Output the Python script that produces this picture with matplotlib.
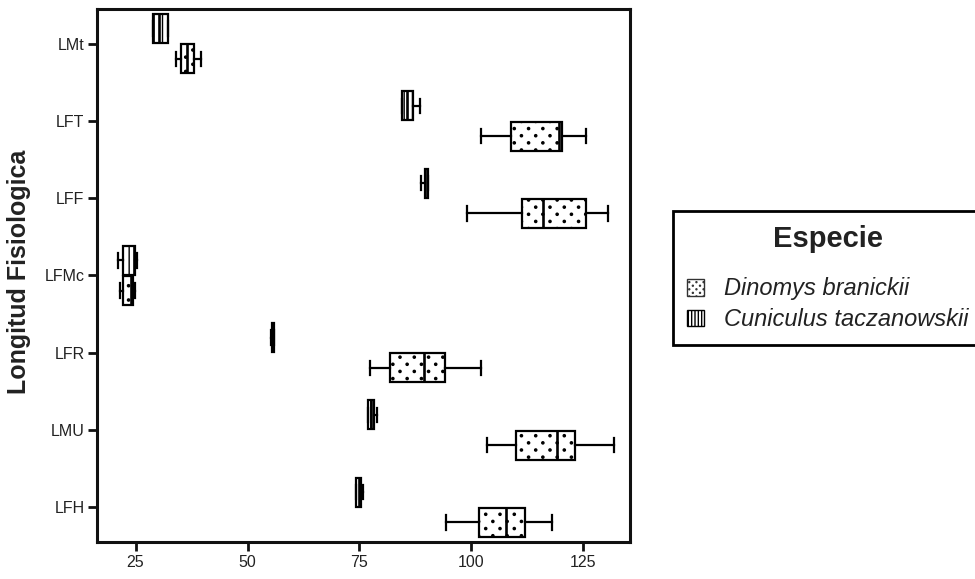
import numpy as np
import matplotlib
matplotlib.use('Agg')
import matplotlib.pyplot as plt
import matplotlib.hatch as mhatch
from matplotlib.path import Path
from matplotlib.patches import Patch

plt.rcParams['font.family'] = ['Liberation Sans', 'DejaVu Sans']
plt.rcParams['hatch.linewidth'] = 1.0

categorias = ['LMt', 'LFT', 'LFF', 'LFMc', 'LFR', 'LMU', 'LFH']

# (whislo, q1, med, q3, whishi) per category
cuniculus = [
    [28.9, 28.9, 30.3, 32.2, 32.2],
    [84.6, 84.6, 85.5, 87.0, 88.6],
    [88.8, 89.6, 90.0, 90.3, 90.3],
    [21.1, 22.2, 24.6, 24.9, 25.4],
    [55.3, 55.4, 55.6, 55.9, 56.0],
    [76.9, 77.0, 77.6, 78.3, 79.0],
    [74.2, 74.3, 75.0, 75.3, 75.7],
]
dinomys = [
    [34.0, 35.1, 36.4, 38.0, 39.6],
    [102.2, 108.8, 119.5, 120.2, 125.6],
    [98.9, 111.3, 116.0, 125.6, 130.5],
    [21.6, 22.3, 23.9, 24.4, 24.9],
    [77.3, 81.8, 89.3, 94.0, 102.2],
    [103.5, 110.0, 119.0, 123.2, 131.8],
    [94.4, 101.7, 107.6, 111.9, 118.0],
]
especies = ['Dinomys branickii', 'Cuniculus taczanowskii']
xticks = [25, 50, 75, 100, 125]


# sparse staggered dot texture like the original (rows twice as close as columns)
class SparseDots(mhatch.HatchPatternBase):

    def __init__(self, hatch, density):
        k = hatch.count('.')
        self.n = k * 7
        self.size = 0.011 if k <= 1 else 0.005
        circ = Path.unit_circle()
        self.shape = circ.vertices
        self.shape_codes = circ.codes
        self.pts = self._points()
        self.num_vertices = len(self.pts) * len(self.shape)

    def _points(self):
        pts = []
        if self.n == 0:
            return pts
        for r in range(2 * self.n + 1):
            y = r / (2 * self.n)
            if r % 2 == 0:
                xs = np.arange(self.n + 1) / self.n
            else:
                xs = (np.arange(self.n) + 0.5) / self.n
            pts += [(x, y) for x in xs]
        return pts

    def set_vertices_and_codes(self, vertices, codes):
        sv = self.shape * self.size
        np.concatenate([sv + p for p in self.pts], out=vertices)
        np.concatenate([self.shape_codes for _ in self.pts], out=codes)


i = mhatch._hatch_types.index(mhatch.SmallFilledCircles)
mhatch._hatch_types[i] = SparseDots


def stats(rows):
    return [dict(whislo=r[0], q1=r[1], med=r[2], q3=r[3], whishi=r[4], fliers=[])
            for r in rows]


fig = plt.figure(figsize=(9.75, 5.79), dpi=100)
ax = fig.add_axes([0.0995, 0.0639, 0.5467, 0.9206])

pos = np.arange(len(categorias))
off = 0.195
w = 0.375
lw = 1.6

for data, p, hatch in [(cuniculus, pos - off, '||'), (dinomys, pos + off, '.')]:
    ax.bxp(stats(data), positions=p, widths=w, vert=False, patch_artist=True,
           showfliers=False, manage_ticks=False,
           boxprops=dict(facecolor='white', edgecolor='black', linewidth=lw, hatch=hatch),
           whiskerprops=dict(color='black', linewidth=lw),
           capprops=dict(color='black', linewidth=lw),
           medianprops=dict(color='black', linewidth=lw + 0.3))

ax.set_xlim(16.4, 135.4)
ax.set_ylim(6.45, -0.45)
ax.set_yticks(pos)
ax.set_yticklabels(categorias)
ax.set_xticks(xticks)
for s in ax.spines.values():
    s.set_linewidth(2.2)
    s.set_color('#111111')
ax.tick_params(axis='both', length=6.5, width=2, color='#111111', labelsize=11.5,
               labelcolor='#222222', pad=2.5)

fig.text(0.019, 0.53, 'Longitud Fisiologica', rotation=90, ha='center', va='center',
         fontsize=18, fontweight='bold', color='#222222')

handles = [Patch(facecolor='white', edgecolor='#333333', hatch='..', linewidth=1.0),
           Patch(facecolor='white', edgecolor='black', hatch='|||||', linewidth=1.0)]
leg = fig.legend(handles, especies, loc='upper left', bbox_to_anchor=(0.690, 0.6356),
                 title='Especie', fancybox=False, edgecolor='black', framealpha=1,
                 prop=dict(size=17, style='italic'),
                 title_fontproperties=dict(size=21, weight='bold'),
                 handlelength=0.72, handleheight=0.72, handletextpad=0.85,
                 labelspacing=0.33, borderpad=0.6, borderaxespad=0)
leg._legend_box.sep = 17.5
leg.get_frame().set_linewidth(2)
for t in leg.get_texts():
    t.set_color('#222222')
leg.get_title().set_color('#222222')

fig.savefig('out.png', dpi=100)
